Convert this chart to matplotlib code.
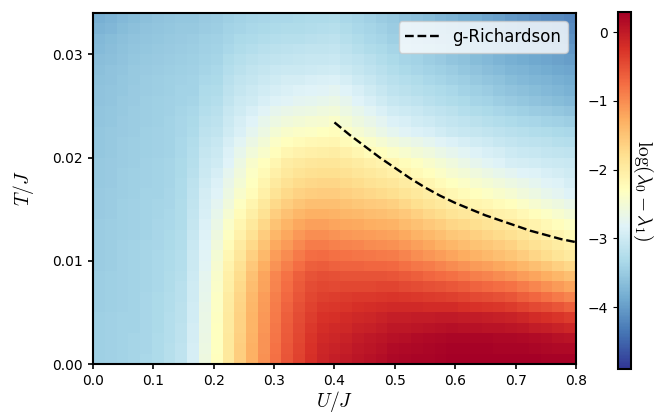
"""
plot.py - log spectral gap map over (U/J, T/J) with the g-Richardson curve
"""

import numpy as np
import matplotlib
matplotlib.use("Agg")
import matplotlib.pyplot as plt
from matplotlib.ticker import FormatStrFormatter

plt.rcParams["mathtext.fontset"] = "cm"
plt.rcParams["axes.linewidth"] = 1.5

# ─────────────────────────────────────────────
# DATA
# ─────────────────────────────────────────────

# cell edges of the map: 41 columns in U, 34 rows in T
U_EDGES = np.linspace(0.0, 0.8, 42)
T_EDGES = np.linspace(0.0, 0.034, 35)

# log(lambda_0 - lambda_1), one row per T cell, bottom row first
LOG_GAP = [
    [-3.45,-3.43,-3.41,-3.38,-3.35,-3.30,-3.22,-3.14,-2.92,-2.60,-2.30,-1.92,-1.60,-1.30,-1.03,-0.78,-0.55,-0.38,-0.22,-0.10,-0.05,0.00,0.05,0.09,0.14,0.19,0.21,0.23,0.24,0.26,0.28,0.28,0.28,0.28,0.28,0.28,0.27,0.27,0.26,0.26,0.25],
    [-3.45,-3.44,-3.42,-3.39,-3.36,-3.31,-3.23,-3.15,-2.93,-2.62,-2.31,-1.93,-1.61,-1.31,-1.05,-0.80,-0.57,-0.40,-0.25,-0.13,-0.09,-0.04,0.01,0.05,0.10,0.15,0.17,0.19,0.21,0.23,0.25,0.25,0.25,0.25,0.24,0.24,0.23,0.21,0.20,0.18,0.17],
    [-3.46,-3.44,-3.42,-3.39,-3.36,-3.31,-3.24,-3.16,-2.94,-2.63,-2.31,-1.94,-1.62,-1.32,-1.06,-0.81,-0.59,-0.42,-0.27,-0.16,-0.12,-0.08,-0.03,0.01,0.06,0.10,0.12,0.15,0.17,0.20,0.22,0.22,0.21,0.21,0.20,0.20,0.18,0.15,0.13,0.10,0.08],
    [-3.46,-3.44,-3.42,-3.40,-3.37,-3.32,-3.25,-3.17,-2.95,-2.65,-2.32,-1.95,-1.64,-1.34,-1.08,-0.83,-0.62,-0.45,-0.31,-0.21,-0.17,-0.14,-0.09,-0.06,-0.02,0.03,0.04,0.06,0.08,0.10,0.11,0.10,0.09,0.08,0.07,0.06,0.03,-0.02,-0.05,-0.09,-0.12],
    [-3.46,-3.44,-3.42,-3.40,-3.37,-3.32,-3.25,-3.18,-2.96,-2.66,-2.33,-1.96,-1.65,-1.35,-1.09,-0.85,-0.64,-0.48,-0.34,-0.25,-0.22,-0.19,-0.15,-0.12,-0.09,-0.05,-0.04,-0.03,-0.02,-0.01,0.00,-0.02,-0.03,-0.05,-0.06,-0.08,-0.13,-0.18,-0.22,-0.27,-0.32],
    [-3.47,-3.45,-3.43,-3.40,-3.37,-3.33,-3.26,-3.19,-2.97,-2.68,-2.35,-1.98,-1.67,-1.37,-1.11,-0.87,-0.68,-0.52,-0.38,-0.31,-0.29,-0.26,-0.23,-0.21,-0.19,-0.16,-0.16,-0.17,-0.18,-0.18,-0.19,-0.22,-0.24,-0.27,-0.29,-0.32,-0.38,-0.44,-0.50,-0.56,-0.63],
    [-3.47,-3.45,-3.43,-3.40,-3.37,-3.33,-3.27,-3.20,-2.98,-2.70,-2.36,-2.00,-1.69,-1.39,-1.13,-0.89,-0.71,-0.55,-0.42,-0.36,-0.35,-0.33,-0.31,-0.30,-0.28,-0.26,-0.28,-0.30,-0.33,-0.35,-0.37,-0.41,-0.44,-0.48,-0.51,-0.55,-0.63,-0.70,-0.78,-0.85,-0.93],
    [-3.48,-3.46,-3.44,-3.41,-3.38,-3.34,-3.28,-3.21,-2.99,-2.73,-2.39,-2.03,-1.73,-1.43,-1.17,-0.93,-0.76,-0.60,-0.48,-0.43,-0.44,-0.43,-0.42,-0.42,-0.41,-0.41,-0.44,-0.47,-0.51,-0.54,-0.58,-0.62,-0.67,-0.71,-0.75,-0.80,-0.88,-0.96,-1.04,-1.11,-1.19],
    [-3.48,-3.46,-3.44,-3.41,-3.38,-3.34,-3.29,-3.22,-3.00,-2.75,-2.41,-2.06,-1.76,-1.46,-1.20,-0.96,-0.80,-0.64,-0.53,-0.50,-0.52,-0.53,-0.53,-0.54,-0.54,-0.55,-0.60,-0.64,-0.69,-0.73,-0.78,-0.83,-0.89,-0.94,-0.99,-1.05,-1.13,-1.21,-1.29,-1.37,-1.45],
    [-3.49,-3.47,-3.44,-3.42,-3.39,-3.35,-3.30,-3.24,-3.02,-2.78,-2.46,-2.12,-1.83,-1.54,-1.29,-1.05,-0.90,-0.75,-0.64,-0.62,-0.65,-0.67,-0.68,-0.69,-0.70,-0.72,-0.77,-0.83,-0.88,-0.94,-0.99,-1.05,-1.11,-1.16,-1.22,-1.28,-1.36,-1.45,-1.53,-1.62,-1.70],
    [-3.49,-3.47,-3.44,-3.42,-3.39,-3.35,-3.31,-3.25,-3.03,-2.80,-2.50,-2.18,-1.90,-1.62,-1.38,-1.14,-1.00,-0.85,-0.75,-0.74,-0.78,-0.80,-0.82,-0.84,-0.86,-0.88,-0.94,-1.01,-1.07,-1.14,-1.20,-1.26,-1.32,-1.38,-1.44,-1.50,-1.59,-1.68,-1.77,-1.86,-1.95],
    [-3.49,-3.47,-3.44,-3.42,-3.39,-3.36,-3.32,-3.26,-3.05,-2.82,-2.55,-2.25,-1.98,-1.72,-1.49,-1.25,-1.12,-0.98,-0.88,-0.88,-0.92,-0.94,-0.96,-0.99,-1.01,-1.03,-1.09,-1.16,-1.23,-1.30,-1.36,-1.42,-1.48,-1.53,-1.59,-1.65,-1.74,-1.82,-1.91,-2.00,-2.08],
    [-3.50,-3.48,-3.45,-3.43,-3.40,-3.36,-3.33,-3.27,-3.06,-2.85,-2.60,-2.33,-2.07,-1.83,-1.59,-1.37,-1.23,-1.10,-1.02,-1.02,-1.06,-1.09,-1.11,-1.13,-1.15,-1.18,-1.25,-1.32,-1.38,-1.45,-1.52,-1.57,-1.63,-1.69,-1.75,-1.80,-1.88,-1.97,-2.05,-2.13,-2.22],
    [-3.50,-3.48,-3.45,-3.43,-3.40,-3.37,-3.34,-3.28,-3.08,-2.87,-2.65,-2.40,-2.15,-1.93,-1.70,-1.48,-1.35,-1.23,-1.15,-1.16,-1.20,-1.23,-1.25,-1.28,-1.30,-1.33,-1.40,-1.47,-1.54,-1.61,-1.68,-1.73,-1.79,-1.84,-1.90,-1.95,-2.03,-2.11,-2.19,-2.27,-2.35],
    [-3.51,-3.49,-3.46,-3.44,-3.41,-3.38,-3.35,-3.29,-3.10,-2.90,-2.71,-2.47,-2.24,-2.04,-1.82,-1.60,-1.47,-1.37,-1.30,-1.30,-1.33,-1.36,-1.39,-1.42,-1.45,-1.48,-1.55,-1.63,-1.70,-1.77,-1.85,-1.90,-1.96,-2.01,-2.07,-2.12,-2.20,-2.28,-2.36,-2.44,-2.52],
    [-3.51,-3.49,-3.46,-3.44,-3.41,-3.39,-3.36,-3.29,-3.13,-2.92,-2.76,-2.55,-2.33,-2.14,-1.93,-1.73,-1.60,-1.51,-1.45,-1.44,-1.45,-1.49,-1.52,-1.56,-1.59,-1.63,-1.71,-1.78,-1.86,-1.94,-2.01,-2.07,-2.13,-2.18,-2.24,-2.30,-2.38,-2.45,-2.53,-2.60,-2.68],
    [-3.52,-3.50,-3.47,-3.45,-3.42,-3.40,-3.37,-3.30,-3.15,-2.95,-2.82,-2.62,-2.42,-2.25,-2.05,-1.85,-1.72,-1.65,-1.60,-1.58,-1.58,-1.62,-1.66,-1.70,-1.74,-1.78,-1.86,-1.94,-2.02,-2.10,-2.18,-2.24,-2.30,-2.35,-2.41,-2.47,-2.55,-2.62,-2.70,-2.77,-2.85],
    [-3.53,-3.51,-3.48,-3.46,-3.43,-3.41,-3.38,-3.31,-3.17,-2.98,-2.87,-2.69,-2.49,-2.31,-2.13,-1.95,-1.82,-1.75,-1.70,-1.68,-1.68,-1.73,-1.77,-1.82,-1.87,-1.91,-1.99,-2.07,-2.15,-2.23,-2.31,-2.38,-2.44,-2.49,-2.56,-2.62,-2.68,-2.74,-2.80,-2.85,-2.92],
    [-3.53,-3.51,-3.48,-3.46,-3.43,-3.41,-3.38,-3.32,-3.20,-3.02,-2.93,-2.75,-2.55,-2.36,-2.22,-2.05,-1.92,-1.85,-1.80,-1.78,-1.78,-1.83,-1.89,-1.94,-1.99,-2.05,-2.13,-2.21,-2.29,-2.37,-2.45,-2.51,-2.58,-2.64,-2.70,-2.77,-2.82,-2.85,-2.90,-2.94,-2.98],
    [-3.54,-3.52,-3.49,-3.47,-3.44,-3.42,-3.39,-3.33,-3.22,-3.05,-2.98,-2.82,-2.62,-2.42,-2.30,-2.15,-2.02,-1.95,-1.90,-1.88,-1.88,-1.94,-2.00,-2.06,-2.12,-2.18,-2.26,-2.34,-2.42,-2.50,-2.58,-2.65,-2.72,-2.78,-2.85,-2.92,-2.95,-2.97,-3.00,-3.02,-3.05],
    [-3.55,-3.53,-3.50,-3.48,-3.45,-3.43,-3.40,-3.34,-3.25,-3.09,-3.03,-2.87,-2.71,-2.53,-2.41,-2.27,-2.15,-2.09,-2.05,-2.03,-2.01,-2.08,-2.16,-2.23,-2.30,-2.37,-2.44,-2.51,-2.58,-2.66,-2.73,-2.79,-2.84,-2.90,-2.95,-3.01,-3.04,-3.07,-3.10,-3.12,-3.15],
    [-3.55,-3.53,-3.50,-3.48,-3.45,-3.43,-3.40,-3.35,-3.27,-3.13,-3.07,-2.93,-2.79,-2.64,-2.51,-2.38,-2.29,-2.24,-2.20,-2.17,-2.15,-2.23,-2.31,-2.39,-2.48,-2.56,-2.62,-2.69,-2.75,-2.81,-2.87,-2.92,-2.97,-3.01,-3.06,-3.11,-3.14,-3.16,-3.19,-3.22,-3.25],
    [-3.56,-3.54,-3.51,-3.49,-3.46,-3.44,-3.41,-3.36,-3.30,-3.17,-3.12,-2.98,-2.88,-2.75,-2.62,-2.50,-2.42,-2.38,-2.35,-2.32,-2.28,-2.37,-2.47,-2.56,-2.66,-2.75,-2.80,-2.86,-2.91,-2.97,-3.02,-3.06,-3.09,-3.13,-3.16,-3.20,-3.23,-3.26,-3.29,-3.32,-3.35],
    [-3.57,-3.55,-3.52,-3.50,-3.47,-3.45,-3.42,-3.37,-3.33,-3.21,-3.16,-3.03,-2.93,-2.83,-2.71,-2.62,-2.55,-2.51,-2.48,-2.45,-2.40,-2.49,-2.59,-2.67,-2.77,-2.86,-2.90,-2.96,-3.01,-3.06,-3.11,-3.15,-3.19,-3.23,-3.26,-3.31,-3.34,-3.37,-3.41,-3.44,-3.47],
    [-3.58,-3.56,-3.53,-3.50,-3.47,-3.45,-3.43,-3.39,-3.35,-3.24,-3.21,-3.07,-2.98,-2.90,-2.81,-2.73,-2.67,-2.64,-2.61,-2.57,-2.53,-2.61,-2.70,-2.79,-2.88,-2.96,-3.01,-3.05,-3.10,-3.15,-3.19,-3.24,-3.28,-3.32,-3.37,-3.41,-3.45,-3.49,-3.52,-3.56,-3.60],
    [-3.59,-3.57,-3.54,-3.51,-3.48,-3.46,-3.44,-3.40,-3.38,-3.28,-3.25,-3.12,-3.03,-2.98,-2.90,-2.85,-2.80,-2.77,-2.74,-2.70,-2.65,-2.73,-2.82,-2.90,-2.99,-3.07,-3.11,-3.15,-3.20,-3.24,-3.28,-3.33,-3.38,-3.42,-3.47,-3.52,-3.56,-3.60,-3.64,-3.68,-3.72],
    [-3.60,-3.58,-3.55,-3.52,-3.49,-3.47,-3.45,-3.42,-3.40,-3.31,-3.28,-3.16,-3.08,-3.03,-2.96,-2.92,-2.88,-2.85,-2.83,-2.80,-2.76,-2.83,-2.91,-2.98,-3.06,-3.14,-3.18,-3.22,-3.27,-3.31,-3.35,-3.40,-3.45,-3.50,-3.55,-3.60,-3.63,-3.67,-3.71,-3.75,-3.79],
    [-3.62,-3.59,-3.56,-3.53,-3.50,-3.48,-3.46,-3.43,-3.42,-3.35,-3.32,-3.21,-3.13,-3.08,-3.02,-2.98,-2.95,-2.94,-2.91,-2.89,-2.86,-2.93,-3.00,-3.07,-3.14,-3.20,-3.25,-3.29,-3.34,-3.38,-3.43,-3.48,-3.53,-3.57,-3.62,-3.67,-3.71,-3.75,-3.78,-3.82,-3.85],
    [-3.63,-3.60,-3.57,-3.54,-3.51,-3.49,-3.47,-3.45,-3.44,-3.38,-3.35,-3.25,-3.18,-3.13,-3.08,-3.05,-3.03,-3.02,-3.00,-2.99,-2.97,-3.03,-3.09,-3.15,-3.21,-3.27,-3.32,-3.36,-3.41,-3.45,-3.50,-3.55,-3.60,-3.65,-3.70,-3.75,-3.78,-3.82,-3.85,-3.89,-3.92],
    [-3.66,-3.63,-3.59,-3.56,-3.53,-3.51,-3.49,-3.47,-3.46,-3.41,-3.38,-3.29,-3.23,-3.19,-3.14,-3.12,-3.10,-3.09,-3.07,-3.06,-3.04,-3.10,-3.15,-3.21,-3.27,-3.33,-3.38,-3.42,-3.47,-3.52,-3.57,-3.62,-3.67,-3.72,-3.77,-3.82,-3.85,-3.89,-3.92,-3.96,-3.99],
    [-3.69,-3.65,-3.62,-3.58,-3.55,-3.53,-3.51,-3.49,-3.48,-3.43,-3.41,-3.34,-3.28,-3.24,-3.21,-3.18,-3.16,-3.15,-3.13,-3.12,-3.10,-3.16,-3.22,-3.28,-3.33,-3.39,-3.44,-3.49,-3.54,-3.58,-3.63,-3.68,-3.73,-3.78,-3.83,-3.88,-3.91,-3.95,-3.98,-4.02,-4.05],
    [-3.72,-3.68,-3.64,-3.60,-3.57,-3.55,-3.53,-3.51,-3.50,-3.46,-3.44,-3.38,-3.33,-3.30,-3.27,-3.25,-3.23,-3.22,-3.20,-3.19,-3.17,-3.23,-3.28,-3.34,-3.39,-3.45,-3.50,-3.55,-3.60,-3.65,-3.70,-3.75,-3.80,-3.85,-3.90,-3.95,-3.98,-4.02,-4.05,-4.09,-4.12],
    [-3.77,-3.73,-3.68,-3.64,-3.60,-3.58,-3.56,-3.54,-3.53,-3.49,-3.47,-3.42,-3.38,-3.35,-3.32,-3.30,-3.29,-3.28,-3.26,-3.25,-3.23,-3.29,-3.34,-3.39,-3.44,-3.50,-3.55,-3.60,-3.64,-3.69,-3.74,-3.79,-3.84,-3.89,-3.94,-3.99,-4.03,-4.07,-4.10,-4.14,-4.18],
    [-3.82,-3.77,-3.72,-3.67,-3.63,-3.60,-3.58,-3.56,-3.55,-3.52,-3.50,-3.46,-3.42,-3.39,-3.37,-3.35,-3.34,-3.33,-3.31,-3.30,-3.29,-3.34,-3.39,-3.44,-3.49,-3.54,-3.59,-3.64,-3.68,-3.73,-3.78,-3.83,-3.88,-3.93,-3.98,-4.03,-4.07,-4.11,-4.15,-4.19,-4.23],
]

# g-Richardson estimate
RICH_U = [0.400, 0.425, 0.450, 0.475, 0.500, 0.525, 0.550, 0.575, 0.600,
          0.625, 0.650, 0.675, 0.700, 0.725, 0.750, 0.775, 0.800]
RICH_T = [0.0234, 0.0222, 0.0211, 0.0200, 0.0190, 0.0180, 0.0171, 0.0163, 0.0156,
          0.0150, 0.0144, 0.0139, 0.0134, 0.0129, 0.0125, 0.0121, 0.0118]

X_TICKS = [0.0, 0.1, 0.2, 0.3, 0.4, 0.5, 0.6, 0.7, 0.8]
Y_TICKS = [0.00, 0.01, 0.02, 0.03]
CB_TICKS = [0, -1, -2, -3, -4]

# ─────────────────────────────────────────────
# PLOT
# ─────────────────────────────────────────────

fig = plt.figure(figsize=(6.64, 4.16), dpi=100)
ax = fig.add_axes([0.140, 0.125, 0.7274, 0.8438])

mesh = ax.pcolormesh(U_EDGES, T_EDGES, np.array(LOG_GAP), cmap="RdYlBu_r",
                     vmin=-4.9, vmax=0.29, shading="flat")
ax.plot(RICH_U, RICH_T, "k--", lw=1.7, label="g-Richardson")

ax.set_xlim(0, 0.8)
ax.set_ylim(0, 0.034)
ax.set_xticks(X_TICKS)
ax.set_yticks(Y_TICKS)
ax.xaxis.set_major_formatter(FormatStrFormatter("%.1f"))
ax.yaxis.set_major_formatter(FormatStrFormatter("%.2f"))
ax.tick_params(width=1.2, labelsize=10)
ax.set_xlabel(r"$U/J$", fontsize=14, labelpad=1)
ax.set_ylabel(r"$T/J$", fontsize=14, labelpad=12)
ax.legend(loc="upper right", fontsize=12)

cax = fig.add_axes([0.930, 0.113, 0.0196, 0.858])
cb = fig.colorbar(mesh, cax=cax, ticks=CB_TICKS)
cax.yaxis.set_ticks_position("left")
cax.tick_params(labelsize=10)
cb.set_label(r"$\log(\lambda_0 - \lambda_1)$", rotation=270, fontsize=14, labelpad=18)
cax.yaxis.set_label_position("right")

fig.savefig("out.png", dpi=100)
